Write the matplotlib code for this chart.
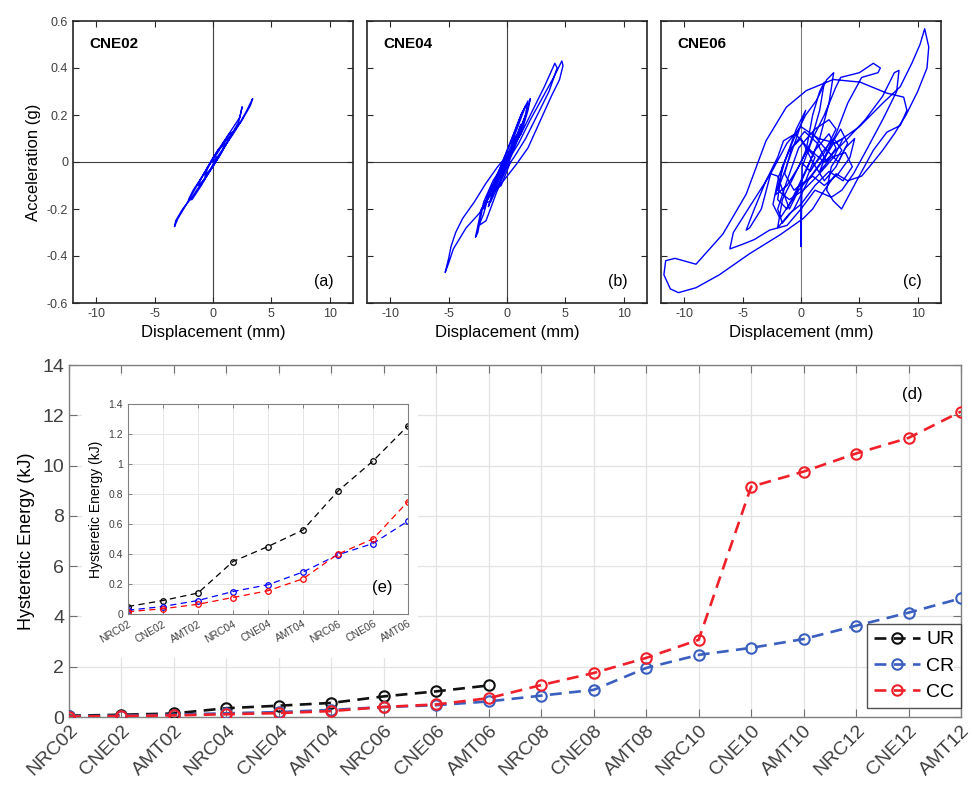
import numpy as np
import matplotlib
matplotlib.use("Agg")
import matplotlib.pyplot as plt
from matplotlib.patches import Rectangle

plt.rcParams["font.family"] = ["Liberation Sans", "DejaVu Sans"]
plt.rcParams["axes.unicode_minus"] = False

# ---- hysteresis traces (displacement mm, acceleration g) ----
cne02_disp = [0, 0.5, 1.2, 2.0, 2.8, 3.4, 3.2, 2.4, 1.6, 0.8, 0.0, -0.8, -1.6, -2.4, -3.0, -3.3,
              -3.2, -2.6, -1.8, -1.0, -0.2, 0.6, 1.4, 2.2, 2.5, 2.3, 1.5, 0.7, -0.1, -0.9, -1.7,
              -2.1, -1.8, -1.0, -0.3, 0.5, 1.3, 1.8, 1.4, 0.6, -0.2, -1.0, -1.3, -0.8, 0.0, 0.8,
              1.0, 0.4, -0.4, -0.7, -0.2, 0.3]
cne02_acc = [0, 0.03, 0.08, 0.14, 0.21, 0.27, 0.24, 0.17, 0.12, 0.07, 0.01, -0.05, -0.12, -0.19,
             -0.24, -0.275, -0.25, -0.2, -0.15, -0.09, -0.03, 0.03, 0.1, 0.17, 0.235, 0.19, 0.13,
             0.07, 0.01, -0.06, -0.12, -0.16, -0.16, -0.1, -0.04, 0.02, 0.09, 0.13, 0.12, 0.06,
             0.0, -0.07, -0.1, -0.08, -0.02, 0.05, 0.08, 0.05, -0.02, -0.06, -0.03, 0.02]

cne04_disp = [0, 1.0, 2.0, 3.0, 4.0, 4.5, 4.7, 4.8, 4.5, 3.8, 2.8, 1.8, 0.8, -0.3, -1.4, -2.4,
              -3.5, -4.6, -5.0, -5.3, -5.0, -4.8, -4.4, -3.8, -2.8, -1.8, -0.8, 0.2, 1.2, 2.2,
              3.2, 4.1, 4.3, 3.6, 2.6, 1.6, 0.6, -0.4, -1.4, -2.2, -2.7, -2.5, -2.0, -1.2, -0.2,
              0.8, 1.6, 2.0, 1.8, 1.2, 0.2, -0.8, -1.6, -2.0, -1.5, -0.6, 0.4, 1.3, 1.6, 1.0,
              0.0, -1.0, -1.6, -1.2, -0.4, 0.6, 1.2, 0.8, -0.2, -1.0, -0.6, 0.2]
cne04_acc = [0, 0.08, 0.18, 0.27, 0.36, 0.41, 0.43, 0.41, 0.35, 0.28, 0.17, 0.06, -0.01, -0.08,
             -0.14, -0.22, -0.28, -0.37, -0.43, -0.47, -0.41, -0.36, -0.3, -0.24, -0.17, -0.09,
             -0.02, 0.04, 0.12, 0.22, 0.32, 0.42, 0.4, 0.3, 0.2, 0.1, 0.02, -0.05, -0.13, -0.2,
             -0.32, -0.3, -0.17, -0.08, 0.0, 0.1, 0.2, 0.27, 0.22, 0.12, 0.04, -0.05, -0.15, -0.2,
             -0.12, -0.05, 0.06, 0.16, 0.2, 0.11, 0.02, -0.09, -0.19, -0.14, -0.04, 0.07, 0.16,
             0.11, 0.01, -0.1, -0.06, 0.03]
cne04_core_disp = [0.4, 1.0, 1.6, 1.2, 0.4, -0.4, -1.2, -1.8, -1.4, -0.6, 0.2, 0.9, 1.5, 1.8,
                   1.2, 0.3, -0.7, -1.5, -2.0, -2.4, -1.8, -0.9, 0.0, 0.8, 1.4, 0.6, -0.3, -1.1,
                   -0.5, 0.3]
cne04_core_acc = [0.08, 0.16, 0.24, 0.2, 0.1, 0.0, -0.1, -0.17, -0.17, -0.08, 0.02, 0.1, 0.18,
                  0.26, 0.2, 0.08, -0.04, -0.13, -0.22, -0.27, -0.25, -0.13, -0.02, 0.08, 0.15,
                  0.1, -0.02, -0.12, -0.1, 0.0]

cne06_disp = [0.0, 0.5, 1.2, 0.4, -0.6, -1.4, -0.8, 0.3, 1.4, 2.2, 3.0, 2.4, 1.2, -0.2, -1.2,
              -2.0, -1.6, -0.6, 0.4, 1.3, 2.2, 2.8, 2.4, 1.6, 0.6, -0.6, -1.8, -2.4, -1.9, -1.0,
              0.0, 1.0, 2.0, 3.0, 3.8, 4.6, 4.2, 3.2, 2.0, 1.0, 0.0, 0.0, 0.1, 1.0, 2.0, 3.0,
              3.4, 5.0, 6.2, 6.8, 6.6, 5.2, 4.0, 3.0, 2.0, 1.0, -0.2, -1.0, -2.0, -2.6, -3.4,
              -4.4, -4.7, -4.0, -3.0, -2.0, -1.5, -0.5, 0.8, 2.0, 3.0, 4.0, 5.5, 7.0, 8.0, 8.4,
              8.2, 7.0, 5.6, 4.5, 3.5, 2.6, 1.2, 0.0, -1.2, -2.7, -4.0, -5.0, -6.1, -5.8, -4.4,
              -2.6, -1.2, 0.0, 1.5, 3.0, 5.0, 7.0, 8.5, 9.5, 10.2, 10.6, 10.95, 10.8, 10.0, 9.0,
              8.0, 7.0, 6.2, 5.2, 4.0, 3.0, 2.0, 1.0, 0.2, -1.8, -4.4, -7.0, -9.0, -10.5, -11.2,
              -11.75, -11.6, -10.8, -9.0, -6.7, -4.7, -3.0, -1.26, 0.46, 2.76, 5.06, 7.36, 8.8,
              9.08, 8.5, 7.36, 6.2, 4.77, 3.48, 2.76, 2.2, 2.6, 3.5, 2.8, 1.8, 0.8, 0.0]
cne06_acc = [0.0, 0.06, 0.02, -0.08, -0.12, -0.05, 0.06, 0.13, 0.08, 0.0, 0.06, 0.12, 0.05, -0.1,
             -0.2, -0.16, -0.02, 0.1, 0.2, 0.26, 0.35, 0.38, 0.25, 0.1, -0.02, -0.15, -0.24,
             -0.18, -0.06, 0.05, 0.1, 0.0, -0.08, -0.02, 0.06, 0.1, 0.02, -0.05, -0.1, -0.06,
             -0.1, -0.36, -0.02, 0.1, 0.2, 0.32, 0.36, 0.38, 0.42, 0.4, 0.38, 0.36, 0.25, 0.12,
             0.02, -0.05, -0.12, -0.2, -0.06, -0.05, -0.2, -0.28, -0.29, -0.2, -0.08, 0.02, 0.09,
             0.12, 0.05, 0.0, 0.05, 0.1, 0.18, 0.28, 0.38, 0.39, 0.3, 0.18, 0.05, -0.05, -0.12,
             -0.15, -0.12, -0.2, -0.27, -0.29, -0.33, -0.35, -0.37, -0.3, -0.19, -0.05, 0.08,
             0.15, 0.1, 0.08, 0.15, 0.25, 0.32, 0.42, 0.5, 0.567, 0.49, 0.4, 0.3, 0.2, 0.12, 0.05,
             0.0, -0.06, -0.08, -0.05, -0.12, -0.2, -0.24, -0.31, -0.39, -0.48, -0.535, -0.556,
             -0.54, -0.48, -0.42, -0.41, -0.435, -0.307, -0.137, 0.09, 0.233, 0.304, 0.351, 0.34,
             0.293, 0.276, 0.22, 0.155, 0.127, 0.05, -0.08, -0.2, -0.165, -0.12, -0.02, 0.05,
             0.1, 0.04, -0.04, 0.0]
cne06_core_disp = [1.0, 2.2, 3.2, 4.0, 3.4, 2.4, 1.6, 2.6, 3.8, 4.4, 3.6, 2.4, 1.2, 0.0, -1.0,
                   -2.0, -1.6, -0.6, 0.4, 1.0, 1.6, 2.0, 1.6, 0.8, -0.2, -1.2, -2.2, -1.4, -0.4,
                   0.4, -0.4, -1.4, -2.0, -1.0, 0.2, 1.4, 2.8, 3.6, 2.8, 1.8, 0.6, -0.6, -1.6,
                   -2.0, -1.2, -0.2, 1.2, 2.4, 3.0, 2.0, 1.0]
cne06_core_acc = [0.12, 0.05, 0.0, 0.08, 0.14, 0.06, -0.04, 0.02, 0.04, -0.02, -0.08, -0.04,
                  -0.1, -0.18, -0.22, -0.28, -0.16, -0.06, 0.04, 0.2, 0.3, 0.34, 0.22, 0.08,
                  -0.02, -0.1, -0.14, 0.0, 0.14, 0.22, 0.1, -0.04, -0.12, -0.16, -0.12, -0.06,
                  0.02, 0.1, 0.08, 0.0, -0.08, -0.2, -0.26, -0.2, -0.08, 0.06, 0.14, 0.18, 0.14,
                  0.04, -0.02]

# ---- hysteretic energy (kJ) ----
specimens = ["NRC02", "CNE02", "AMT02", "NRC04", "CNE04", "AMT04", "NRC06", "CNE06", "AMT06",
             "NRC08", "CNE08", "AMT08", "NRC10", "CNE10", "AMT10", "NRC12", "CNE12", "AMT12"]
energy_ur = [0.05, 0.09, 0.14, 0.35, 0.45, 0.56, 0.82, 1.02, 1.255]
energy_cr = [0.025, 0.05, 0.09, 0.15, 0.195, 0.28, 0.395, 0.47, 0.62,
             0.85, 1.08, 1.95, 2.47, 2.75, 3.1, 3.63, 4.15, 4.72]
energy_cc = [0.015, 0.035, 0.065, 0.11, 0.155, 0.235, 0.40, 0.50, 0.75,
             1.27, 1.75, 2.35, 3.07, 9.16, 9.76, 10.48, 11.1, 12.15]

BLUE_TRACE = "#0000FF"
UR_COL = "#111111"
CR_COL = "#3A5FBF"
CC_COL = "#F0202A"
AX_COL = "#262626"
TXT_COL = "#404040"

fig = plt.figure(figsize=(9.73, 7.9), dpi=100)

# ---- top row: hysteresis loops ----
panels = [
    ("CNE02", "(a)", [(cne02_disp, cne02_acc)], 73),
    ("CNE04", "(b)", [(cne04_disp, cne04_acc), (cne04_core_disp, cne04_core_acc)], 367),
    ("CNE06", "(c)", [(cne06_disp, cne06_acc), (cne06_core_disp, cne06_core_acc)], 661),
]
for i, (name, tag, traces, left_px) in enumerate(panels):
    ax = fig.add_axes([left_px / 973, 1 - 303 / 790, 280 / 973, 282 / 790])
    ax.axhline(0, color="#404040", lw=0.8, zorder=1)
    ax.axvline(0, color="#404040" if i < 2 else "#808080", lw=0.8, zorder=1)
    for xs, ys in traces:
        ax.plot(xs, ys, color=BLUE_TRACE, lw=1.0, zorder=2)
    ax.set_xlim(-12, 12)
    ax.set_ylim(-0.6, 0.6)
    ax.set_xticks([-10, -5, 0, 5, 10])
    ax.set_yticks(np.arange(-0.6, 0.61, 0.2))
    ax.tick_params(direction="in", top=True, right=True, length=4, width=0.8,
                   labelsize=9, colors=AX_COL, labelcolor=TXT_COL)
    if i == 0:
        ax.set_yticklabels(["-0.6", "-0.4", "-0.2", "0", "0.2", "0.4", "0.6"])
        ax.set_ylabel("Acceleration (g)", fontsize=12, color="black")
    else:
        ax.set_yticklabels([])
    ax.set_xlabel("Displacement (mm)", fontsize=12, color="black", labelpad=4)
    for sp in ax.spines.values():
        sp.set_color(AX_COL)
        sp.set_linewidth(1.2)
    ax.text(0.06, 0.92, name, transform=ax.transAxes, fontsize=11, fontweight="bold",
            ha="left", va="center")
    ax.text(0.93, 0.075, tag, transform=ax.transAxes, fontsize=11.5, ha="right", va="center")

# ---- bottom: hysteretic energy ----
x_all = np.arange(1, len(specimens) + 1)
x_ur = x_all[:len(energy_ur)]

ax = fig.add_axes([69 / 973, 1 - 717 / 790, 892 / 973, 352 / 790])
ax.plot(x_ur, energy_ur, color=UR_COL, lw=1.9, dashes=(4.5, 2.8), marker="o", ms=7.5,
        mfc="none", mew=1.5, label="UR", zorder=3)
ax.plot(x_all, energy_cr, color=CR_COL, lw=1.9, dashes=(4.5, 2.8), marker="o", ms=7.5,
        mfc="none", mew=1.5, label="CR", zorder=3)
ax.plot(x_all, energy_cc, color=CC_COL, lw=1.9, dashes=(4.5, 2.8), marker="o", ms=7.5,
        mfc="none", mew=1.5, label="CC", zorder=4)
ax.set_xlim(1, len(specimens))
ax.set_ylim(0, 14)
ax.set_yticks(np.arange(0, 15, 2))
ax.set_xticks(x_all)
ax.set_xticklabels(specimens, rotation=45, ha="right", rotation_mode="anchor", fontsize=14)
ax.tick_params(axis="y", labelsize=14)
ax.tick_params(direction="in", top=True, right=True, length=6, width=0.8,
               colors="#707070", labelcolor=TXT_COL)
ax.grid(True, color="#e3e3e3", lw=0.9)
ax.set_axisbelow(True)
for sp in ax.spines.values():
    sp.set_color("#808080")
    sp.set_linewidth(1.0)
ax.set_ylabel("Hysteretic Energy (kJ)", fontsize=13, labelpad=5)
ax.text(0.945, 0.915, "(d)", transform=ax.transAxes, fontsize=12, ha="center", va="center")
leg = ax.legend(loc="lower right", bbox_to_anchor=(1.0, 0.026), borderaxespad=0,
                fontsize=14, frameon=True, fancybox=False, handlelength=2.4,
                handletextpad=0.3, labelspacing=0.45, borderpad=0.35)
leg.get_frame().set_edgecolor(AX_COL)
leg.get_frame().set_linewidth(1.0)

# white patch behind the inset
fig.add_artist(Rectangle((82 / 973, 1 - 658 / 790), 336 / 973, 282 / 790,
                         transform=fig.transFigure, facecolor="white", edgecolor="none",
                         zorder=1))

ins = fig.add_axes([128 / 973, 1 - 614 / 790, 280 / 973, 210 / 790])
ins.set_zorder(2)
ins.plot(x_ur, energy_ur, color="black", lw=0.9, dashes=(5, 3.5), marker="o", ms=4,
         mfc="none", mew=0.9)
ins.plot(x_ur, energy_cr[:len(x_ur)], color="#0000FF", lw=0.9, dashes=(5, 3.5), marker="o",
         ms=4, mfc="none", mew=0.9)
ins.plot(x_ur, energy_cc[:len(x_ur)], color="#FF0000", lw=0.9, dashes=(5, 3.5), marker="o",
         ms=4, mfc="none", mew=0.9)
ins.set_xlim(1, len(x_ur))
ins.set_ylim(0, 1.4)
ins.set_yticks(np.arange(0, 1.41, 0.2))
ins.set_yticklabels(["0", "0.2", "0.4", "0.6", "0.8", "1", "1.2", "1.4"])
ins.set_xticks(x_ur)
ins.set_xticklabels(specimens[:len(x_ur)], rotation=30, ha="right", rotation_mode="anchor",
                    fontsize=7.5)
ins.tick_params(axis="y", labelsize=7.5)
ins.tick_params(direction="in", top=True, right=True, length=3, width=0.6,
                colors="#707070", labelcolor=TXT_COL)
ins.grid(True, color="#e6e6e6", lw=0.7)
ins.set_axisbelow(True)
for sp in ins.spines.values():
    sp.set_color("#808080")
    sp.set_linewidth(0.8)
ins.set_ylabel("Hysteretic Energy (kJ)", fontsize=10, labelpad=4)
ins.text(0.907, 0.124, "(e)", transform=ins.transAxes, fontsize=12, ha="center", va="center")

fig.savefig("out.png", dpi=100)
